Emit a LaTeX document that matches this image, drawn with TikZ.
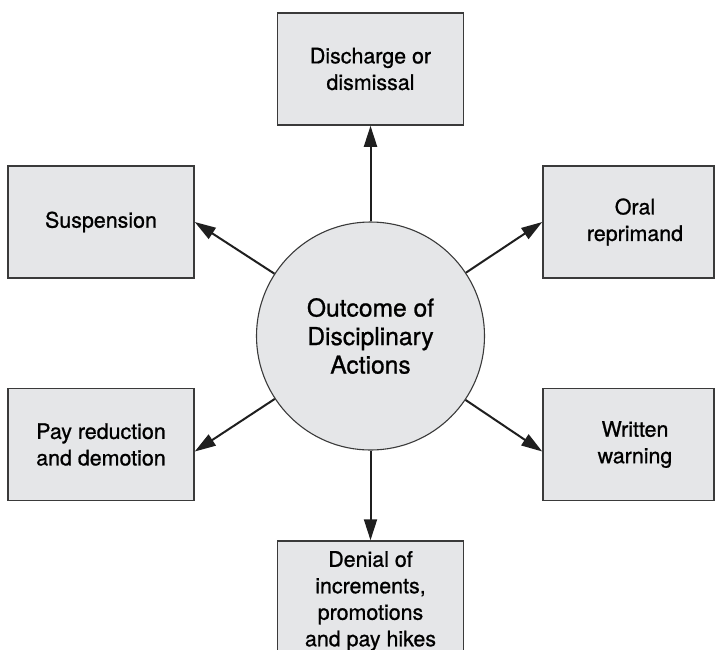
\documentclass[tikz,border=0pt]{standalone}
\usepackage{fontspec}
\setmainfont{TeX Gyre Heros}[FakeBold=0.9]
\usepackage{tikz}
\usetikzlibrary{positioning, arrows.meta}

\definecolor{boxgray}{HTML}{E5E6E8}
\definecolor{edgegray}{HTML}{3A3A3A}

\begin{document}
\begin{tikzpicture}[
    x=0.5pt, y=-0.5pt,
    box/.style={rectangle, draw=edgegray, fill=boxgray, line width=0.75pt,
                minimum width=93pt, minimum height=56pt, inner sep=0pt, align=center,
                font=\fontsize{10.7}{13.25}\selectfont},
    narrowbox/.style={box, minimum width=85.5pt},
    hub/.style={circle, draw=edgegray, fill=boxgray, line width=0.55pt,
                minimum size=114pt, inner sep=0pt, align=center,
                font=\fontsize{12.3}{14.25}\selectfont},
    arrow/.style={-{Triangle[length=10.5pt, width=6.5pt]}, line width=1pt, draw=black!88, fill=black!88}
]

    \useasboundingbox (0,0) rectangle (716,649);
    \clip (0,0) rectangle (716,649);

    % Centre
    \node[hub] (hub) at (370.5, 336) {Outcome of\\Disciplinary\\Actions};

    % Outcomes
    \node[box] (discharge) at (370.5, 69) {Discharge or\\dismissal};
    \node[box] (suspension) at (101, 222) {Suspension};
    \node[narrowbox] (oral) at (628.5, 222) {\hspace*{6.5pt}Oral\\\hspace*{6.5pt}reprimand};
    \node[box] (payred) at (101, 444.5) {Pay reduction\\and demotion};
    \node[narrowbox] (written) at (628.5, 444.5) {\hspace*{6.5pt}Written\\\hspace*{6.5pt}warning};
    \node[box, minimum height=60pt] (denial) at (370.5, 601) {Denial of\\increments,\\promotions\\and pay hikes};

    % Arrows
    \draw[arrow] (hub) -- (discharge);
    \draw[arrow] (hub) -- (suspension.east);
    \draw[arrow] (hub) -- (oral.west);
    \draw[arrow] (hub) -- ([yshift=-3.5pt]payred.east);
    \draw[arrow] (hub) -- ([yshift=-3.5pt]written.west);
    \draw[arrow] (hub) -- (denial);

\end{tikzpicture}
\end{document}
